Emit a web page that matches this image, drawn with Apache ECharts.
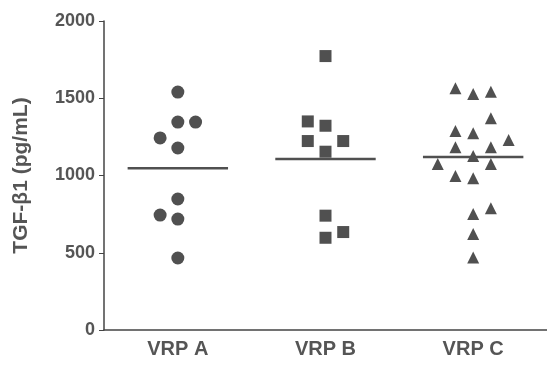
<!DOCTYPE html>
<html>
<head>
<meta charset="utf-8">
<script src="https://cdn.jsdelivr.net/npm/echarts@6/dist/echarts.min.js"></script>
<style>
  html, body { margin: 0; padding: 0; background: #fff; }
  #chart { width: 547px; height: 365px; }
</style>
</head>
<body>
<div id="chart"></div>
<script>
// groups on the x axis
const categories = ['VRP A', 'VRP B', 'VRP C']
const yTicks = [0, 500, 1000, 1500, 2000]

// values (pg/mL)
const vrpA = [1540, 1346, 1346, 1243, 1178, 848, 744, 718, 466]
const vrpB = [1773, 1350, 1322, 1223, 1223, 1154, 740, 634, 597]
const vrpC = [1564, 1527, 1542, 1370, 1288, 1273, 1230, 1183, 1183, 1126, 1074, 1074, 997, 982, 788, 751, 621, 470]

// side-by-side slot of each point inside its column (-2 .. 2)
const slotA = [0, 0, 1, -1, 0, 0, -1, 0, 0]
const slotB = [0, -1, 0, -1, 1, 0, 0, 1, 0]
const slotC = [-1, 0, 1, 1, -1, 0, 2, -1, 1, 0, -2, 1, -1, 0, 1, 0, 0, 0]

// horizontal mean line of each group
const meanLine = [1047, 1107, 1120]

const ink = '#505050'
const slotStep = 0.12 // category units between neighbouring slots
const halfLine = 0.34
const font = 'Liberation Sans, Arial, sans-serif'

function toPoints(vals, slots, idx) {
  return vals.map((v, i) => [idx + slots[i] * slotStep, v])
}

const chart = echarts.init(document.getElementById('chart'))

const meanSeries = meanLine.map((m, i) => ({
  type: 'line',
  xAxisIndex: 1,
  data: [[i - halfLine, m], [i + halfLine, m]],
  symbol: 'none',
  lineStyle: { color: ink, width: 2.5 },
  z: 1,
  silent: true
}))

chart.setOption({
  animation: false,
  grid: { left: 104, right: 0, top: 21, bottom: 35 },
  xAxis: [{
    type: 'category',
    data: categories,
    axisLine: { lineStyle: { color: '#444', width: 1.5 } },
    axisTick: { alignWithLabel: true, length: 5, lineStyle: { color: '#444' } },
    axisLabel: { color: '#555', fontSize: 20, fontWeight: 'bold', fontFamily: font, margin: 9 }
  }, {
    type: 'value',
    min: -0.5,
    max: 2.5,
    show: false
  }],
  yAxis: {
    type: 'value',
    min: yTicks[0],
    max: yTicks[yTicks.length - 1],
    interval: 500,
    name: 'TGF-β1 (pg/mL)',
    nameLocation: 'middle',
    nameGap: 72,
    nameTextStyle: { color: '#555', fontSize: 21, fontWeight: 'bold', fontFamily: font },
    axisLine: { show: true, onZero: false, lineStyle: { color: '#444', width: 1.5 } },
    axisTick: { show: true, length: 5, lineStyle: { color: '#444' } },
    axisLabel: {
      color: '#555', fontSize: 18, fontWeight: 'bold', fontFamily: font, margin: 9,
      formatter: v => String(v)
    },
    splitLine: { show: false }
  },
  series: meanSeries.concat([{
    type: 'scatter',
    xAxisIndex: 1,
    data: toPoints(vrpA, slotA, 0),
    symbol: 'circle',
    symbolSize: 13,
    itemStyle: { color: ink, opacity: 1 },
    z: 3
  }, {
    type: 'scatter',
    xAxisIndex: 1,
    data: toPoints(vrpB, slotB, 1),
    symbol: 'rect',
    symbolSize: 12,
    itemStyle: { color: ink, opacity: 1 },
    z: 3
  }, {
    type: 'scatter',
    xAxisIndex: 1,
    data: toPoints(vrpC, slotC, 2),
    symbol: 'triangle',
    symbolSize: 12,
    itemStyle: { color: ink, opacity: 1 },
    z: 3
  }])
})
</script>
</body>
</html>
